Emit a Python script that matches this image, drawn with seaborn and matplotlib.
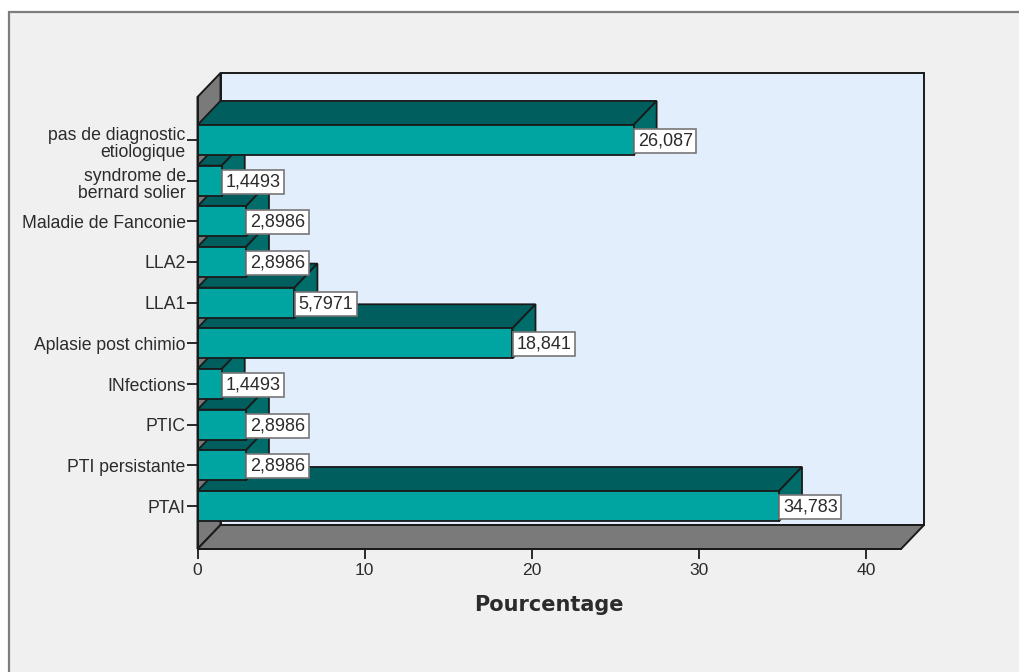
import matplotlib
matplotlib.use("Agg")
import matplotlib.pyplot as plt
from matplotlib.patches import Polygon, Rectangle
from matplotlib.transforms import ScaledTranslation
import pandas as pd
import seaborn as sns

categories = [
    "pas de diagnostic\netiologique",
    "syndrome de\nbernard solier",
    "Maladie de Fanconie",
    "LLA2",
    "LLA1",
    "Aplasie post chimio",
    "INfections",
    "PTIC",
    "PTI persistante",
    "PTAI",
]
percentages = [26.087, 1.4493, 2.8986, 2.8986, 5.7971, 18.841, 1.4493, 2.8986, 2.8986, 34.783]
x_ticks = [0, 10, 20, 30, 40]
x_title = "Pourcentage"

FRONT = "#00A5A2"
TOP = "#005F5E"
SIDE = "#006D6B"
WALL = "#7A7A7A"
BACK = "#E2EEFB"
PANEL = "#F0F0F0"
INK = "#1A1A1A"
TEXT = "#2B2B2B"

sns.set_theme(style="white")
plt.rcParams["font.family"] = ["Liberation Sans", "DejaVu Sans"]

W, H = 1019, 672
fig = plt.figure(figsize=(W / 100, H / 100), dpi=100, facecolor="white")
fig.patches.append(Rectangle((9 / W, -0.02), 1.02, 1.02 - 12 / H, transform=fig.transFigure,
                             facecolor=PANEL, edgecolor="#7E7E7E", linewidth=1.6, zorder=-1))

# Axes cover the front plane of the box; the walls are pushed back by a fixed depth.
ax_left, ax_right, ax_top, ax_bottom = 197.5, 901, 97, 549
ax = fig.add_axes([ax_left / W, 1 - ax_bottom / H, (ax_right - ax_left) / W, (ax_bottom - ax_top) / H])
ax.patch.set_alpha(0)

df = pd.DataFrame({"diagnostic": categories, "pourcentage": percentages})
sns.barplot(data=df, y="diagnostic", x="pourcentage", orient="h", color=FRONT, saturation=1,
            width=0.74, edgecolor=INK, linewidth=1.3, ax=ax)

ax.set_xlim(0, 42.08)
ax.set_ylim(10.057, -1.057)
dx = 23 * 42.08 / (ax_right - ax_left)
dy = -24 * 11.114 / (ax_bottom - ax_top)
x_max = ax.get_xlim()[1]
y_low, y_high = ax.get_ylim()

# Back wall, left wall and floor of the box
ax.add_patch(Polygon([(dx, y_high + dy), (x_max + dx, y_high + dy), (x_max + dx, y_low + dy), (dx, y_low + dy)],
                     facecolor=BACK, edgecolor=INK, linewidth=1.4, clip_on=False, zorder=0.5))
ax.add_patch(Polygon([(0, y_high), (dx, y_high + dy), (dx, y_low + dy), (0, y_low)],
                     facecolor=WALL, edgecolor=INK, linewidth=1.4, clip_on=False, zorder=0.6))
ax.add_patch(Polygon([(0, y_low), (dx, y_low + dy), (x_max + dx, y_low + dy), (x_max, y_low)],
                     facecolor=WALL, edgecolor=INK, linewidth=1.4, clip_on=False, zorder=0.6))

# Extrude each bar backwards; upper bars sit in front of the ones below them
n_bars = len(percentages)
for i, bar in enumerate(ax.patches[:n_bars]):
    x1 = bar.get_width()
    y0, y1 = bar.get_y(), bar.get_y() + bar.get_height()
    z = 3 + (n_bars - i)
    ax.add_patch(Polygon([(0, y0), (dx, y0 + dy), (x1 + dx, y0 + dy), (x1, y0)], facecolor=TOP,
                         edgecolor=INK, linewidth=1.3, clip_on=False, zorder=z))
    ax.add_patch(Polygon([(x1, y0), (x1 + dx, y0 + dy), (x1 + dx, y1 + dy), (x1, y1)], facecolor=SIDE,
                         edgecolor=INK, linewidth=1.3, clip_on=False, zorder=z))
    bar.set_zorder(z + 0.5)

for i, value in enumerate(percentages):
    ax.annotate(f"{value:.5g}".replace(".", ","), xy=(value, i), xytext=(4, -1),
                textcoords="offset pixels", ha="left", va="center", fontsize=13, color=TEXT,
                bbox=dict(boxstyle="square,pad=0.2", facecolor="white", edgecolor="#777777", linewidth=1.2),
                zorder=30, annotation_clip=False)

ax.set_xticks(x_ticks)
ax.tick_params(axis="x", length=7, width=1.3, color=INK, pad=3, labelsize=12.6, labelcolor=TEXT, bottom=True)
ax.tick_params(axis="y", length=8, width=1.3, color=INK, pad=0.5, labelsize=12.7, labelcolor=TEXT, left=True)

# Two-line category names hang slightly below their tick
nudge_down = ScaledTranslation(0, -2.5 / fig.dpi, fig.dpi_scale_trans)
for label in ax.get_yticklabels():
    label.set_linespacing(0.95)
    label.set_multialignment("right")
    if "\n" in label.get_text():
        label.set_transform(label.get_transform() + nudge_down)

ax.set_ylabel("")
ax.set_xlabel(x_title, fontsize=15, fontweight="bold", family="DejaVu Sans", color=TEXT, labelpad=12.5)

sns.despine(ax=ax, top=True, right=True)
for side in ("left", "bottom"):
    ax.spines[side].set_color(INK)
    ax.spines[side].set_linewidth(1.4)
    ax.spines[side].set_zorder(40)

fig.savefig("out.png", dpi=100, facecolor="white")
